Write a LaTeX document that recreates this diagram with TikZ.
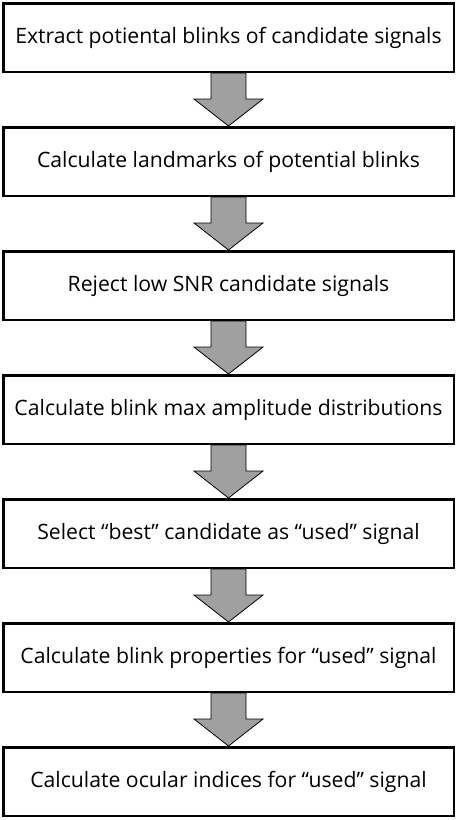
\documentclass[tikz,border=0pt]{standalone}
\usepackage{fontspec}
\setmainfont{Open Sans}
\usepackage{tikz}
\usetikzlibrary{positioning,calc}
\newcommand{\fatarrow}[2]{
\draw[fatarrow] ($(#1.south)+(-17.5,0)$) -- ($(#2.north)+(-17.5,27)$) -- ($(#2.north)+(-34.5,27)$)
  -- (#2.north) -- ($(#2.north)+(34.5,27)$) -- ($(#2.north)+(17.5,27)$) -- ($(#1.south)+(17.5,0)$) -- cycle;
}

\begin{document}
\begin{tikzpicture}[x=1pt,y=1pt,node distance=53pt]
\tikzstyle{stepbox}=[draw,line width=2.5pt,minimum width=450.5pt,minimum height=68.5pt,inner sep=0pt,font=\fontsize{21.2}{24}\selectfont]
\tikzstyle{fatarrow}=[draw,line width=0.8pt,fill={rgb,255:red,160;green,160;blue,160}]
\useasboundingbox (0,0) rectangle (457,-820);
\node[stepbox,anchor=north] (extract) at (228.5,-2) {Extract potiental blinks of candidate signals};
\node[stepbox,below=of extract] (landmarks) {Calculate landmarks of potential blinks};
\node[stepbox,below=of landmarks] (reject) {Reject low SNR candidate signals};
\node[stepbox,below=of reject] (maxamp) {Calculate blink max amplitude distributions};
\node[stepbox,below=of maxamp] (select) {Select “best” candidate as “used” signal};
\node[stepbox,below=of select] (props) {Calculate blink properties for “used” signal};
\node[stepbox,below=of props] (ocular) {Calculate ocular indices for “used” signal};
\fatarrow{extract}{landmarks}
\fatarrow{landmarks}{reject}
\fatarrow{reject}{maxamp}
\fatarrow{maxamp}{select}
\fatarrow{select}{props}
\fatarrow{props}{ocular}
\end{tikzpicture}
\end{document}
